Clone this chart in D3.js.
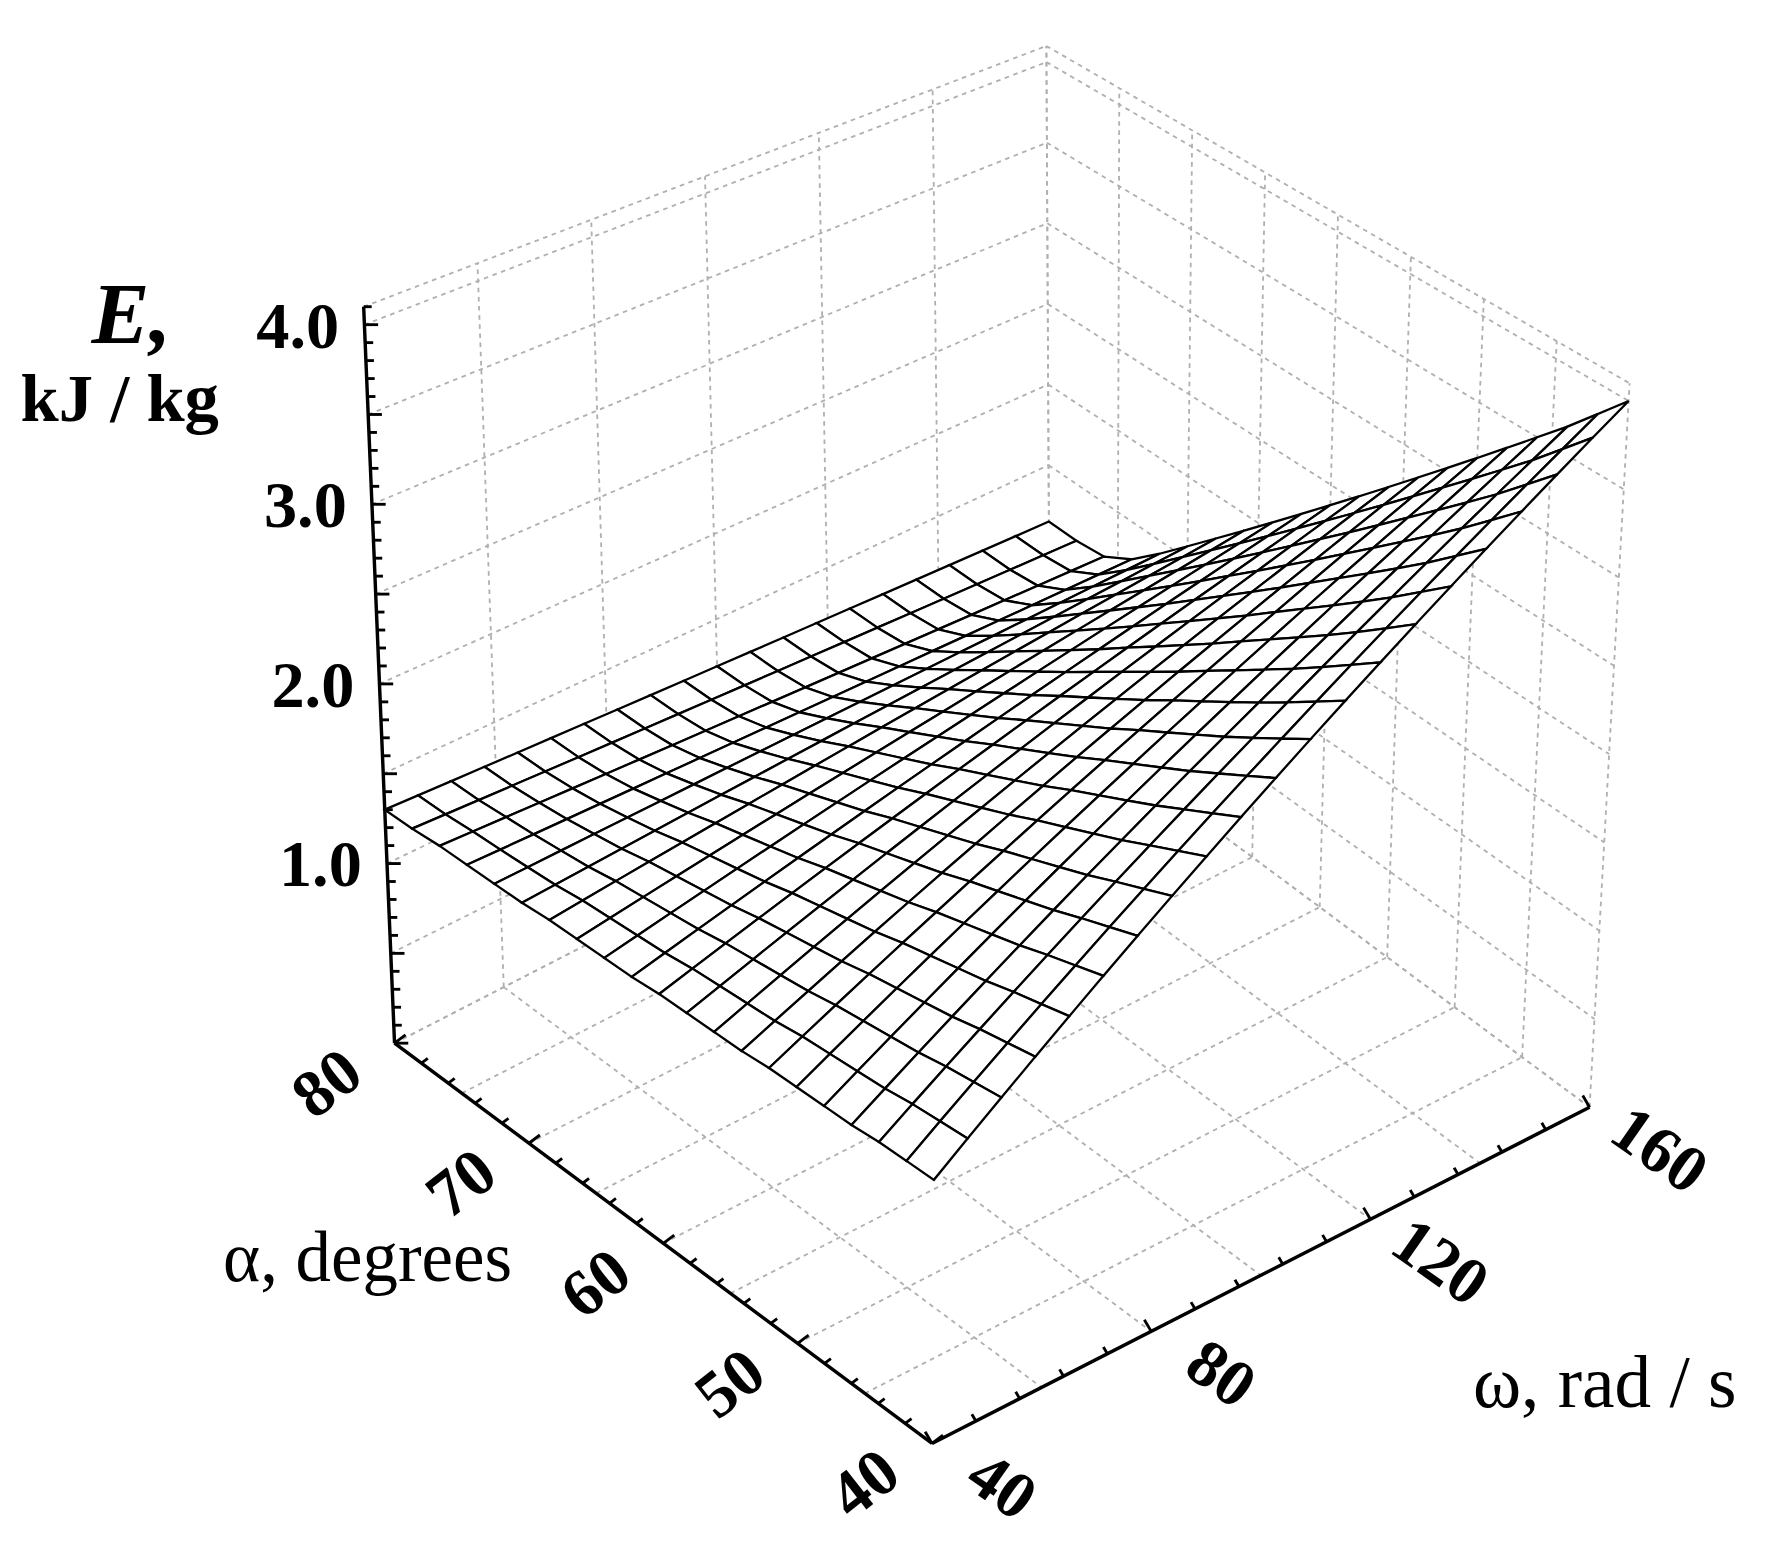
<!DOCTYPE html>
<html><head><meta charset="utf-8">
<script src="https://cdn.jsdelivr.net/npm/d3@7"></script>
<style>body{margin:0;background:#fff}</style></head>
<body><svg id="c" width="1784" height="1542" viewBox="0 0 1560 1348"></svg>
<script>
// Data
const alphaVals = [80,78,76,74,72,70,68,66,64,62,60,58,56,54,52,50,48,46,44,42,40];
const E_w40  = [1.30,1.30,1.31,1.31,1.31,1.31,1.32,1.32,1.32,1.32,1.33,1.33,1.33,1.33,1.34,1.34,1.34,1.34,1.35,1.35,1.35];
const E_w160 = [1.15,1.15,1.17,1.27,1.42,1.58,1.74,1.90,2.06,2.22,2.38,2.54,2.70,2.86,3.02,3.18,3.34,3.50,3.66,3.83,4.00];
const omegaMesh = d3.range(40,160.001,6);
const alphaTicks = [80,70,60,50,40];
const omegaTicks = [40,80,120,160];
const zTicks = [1.0,2.0,3.0,4.0];

const svg = d3.select('#c');
const uS = d3.scaleLinear().domain([40,160]).range([0,1]);
const vS = d3.scaleLinear().domain([80,40]).range([0,1]);
const zS = d3.scaleLinear().domain([0,4.1]).range([0,1]);
const base = {'00':[345,912],'01':[815,1262],'11':[1390,968],'10':[918,618]};
const vert = {'00':[-27,-644],'01':[5,-700],'11':[35,-633],'10':[-3,-578]};
function bil(o,u,v,k){return (1-u)*(1-v)*o['00'][k]+(1-u)*v*o['01'][k]+u*v*o['11'][k]+u*(1-v)*o['10'][k];}
function P(w,a,z){const u=uS(w),v=vS(a),t=zS(z);
  return [bil(base,u,v,0)+bil(vert,u,v,0)*t, bil(base,u,v,1)+bil(vert,u,v,1)*t];}
const line = d3.line();
const grid = svg.append('g').attr('fill','none').attr('stroke','#b0b0b0').attr('stroke-width',1.6).attr('stroke-dasharray','4,4');
const zg = d3.range(0,4.101,0.5).concat([4.1]);
const wg = d3.range(40,160.1,20), ag = d3.range(40,80.1,5);
wg.forEach(w=>grid.append('path').attr('d',line([P(w,80,0),P(w,80,4.1)])));
zg.forEach(z=>grid.append('path').attr('d',line([P(40,80,z),P(160,80,z)])));
ag.forEach(a=>grid.append('path').attr('d',line([P(160,a,0),P(160,a,4.1)])));
zg.forEach(z=>grid.append('path').attr('d',line([P(160,80,z),P(160,40,z)])));
wg.forEach(w=>grid.append('path').attr('d',line([P(w,80,0),P(w,40,0)])));
ag.forEach(a=>grid.append('path').attr('d',line([P(40,a,0),P(160,a,0)])));

// surface (each alpha row is a straight line in omega between its two end values)
function E(i,w){const t=uS(w);return E_w40[i]+(E_w160[i]-E_w40[i])*t;}
const quads=[];
for(let i=0;i<alphaVals.length-1;i++)for(let j=0;j<omegaMesh.length-1;j++){
  const w0=omegaMesh[j],w1=omegaMesh[j+1],a0=alphaVals[i],a1=alphaVals[i+1];
  quads.push({d:(vS(a0)+vS(a1))-(uS(w0)+uS(w1)),pts:[P(w0,a0,E(i,w0)),P(w1,a0,E(i,w1)),P(w1,a1,E(i+1,w1)),P(w0,a1,E(i+1,w0))]});
}
quads.sort((a,b)=>a.d-b.d);
svg.append('g').selectAll('path').data(quads).join('path')
  .attr('d',q=>line(q.pts)+'Z').attr('fill','#fff').attr('stroke','#000').attr('stroke-width',2).attr('stroke-linejoin','miter');

const ax = svg.append('g').attr('stroke','#000').attr('stroke-width',3).attr('fill','none');
ax.append('path').attr('d',line([P(40,80,0),P(40,80,4.1)]));
ax.append('path').attr('d',line([P(40,80,0),P(40,40,0)]));
ax.append('path').attr('d',line([P(40,40,0),P(160,40,0)]));
const tk = svg.append('g').attr('stroke','#000').attr('stroke-width',2.5);
d3.range(0,4.101,0.1).forEach((z,k)=>{const p=P(40,80,z);const L=(k%5==0)?12:7;
  tk.append('line').attr('x1',p[0]).attr('y1',p[1]).attr('x2',p[0]+L).attr('y2',p[1]);});
d3.range(40,80.1,2).forEach((a,k)=>{const p=P(40,a,0);const L=(k%5==0)?12:7;
  tk.append('line').attr('x1',p[0]).attr('y1',p[1]).attr('x2',p[0]+L*0.8).attr('y2',p[1]-L*0.6);});
d3.range(40,160.1,8).forEach((w,k)=>{const p=P(w,40,0);const L=(k%5==0)?12:7;
  tk.append('line').attr('x1',p[0]).attr('y1',p[1]).attr('x2',p[0]-L*0.5).attr('y2',p[1]-L*0.85);});

const font='"Liberation Serif","DejaVu Serif",serif';
const tl = svg.append('g').attr('font-family',font).attr('font-weight','bold').attr('font-size',58).attr('fill','#000');
zTicks.forEach(z=>{const p=P(40,80,z);tl.append('text').attr('x',p[0]-22).attr('y',p[1]+20).attr('text-anchor','end').text(z.toFixed(1));});
alphaTicks.forEach(a=>{const p=P(40,a,0);tl.append('text').attr('transform',`translate(${p[0]-60},${p[1]+34}) rotate(-38)`).attr('text-anchor','middle').attr('dy','0.35em').text(a);});
omegaTicks.forEach(w=>{const p=P(w,40,0);tl.append('text').attr('transform',`translate(${p[0]+62},${p[1]+36}) rotate(35)`).attr('text-anchor','middle').attr('dy','0.35em').text(w);});

svg.append('text').attr('x',80).attr('y',300).attr('font-family',font).attr('font-weight','bold').attr('font-style','italic').attr('font-size',76).text('E,');
svg.append('text').attr('x',18).attr('y',368).attr('font-family',font).attr('font-weight','bold').attr('font-size',60).text('kJ / kg');
svg.append('text').attr('x',195).attr('y',1120).attr('font-family',font).attr('font-size',62).text('α, degrees');
svg.append('text').attr('x',1288).attr('y',1230).attr('font-family',font).attr('font-size',64).text('ω, rad / s');
</script></body></html>
